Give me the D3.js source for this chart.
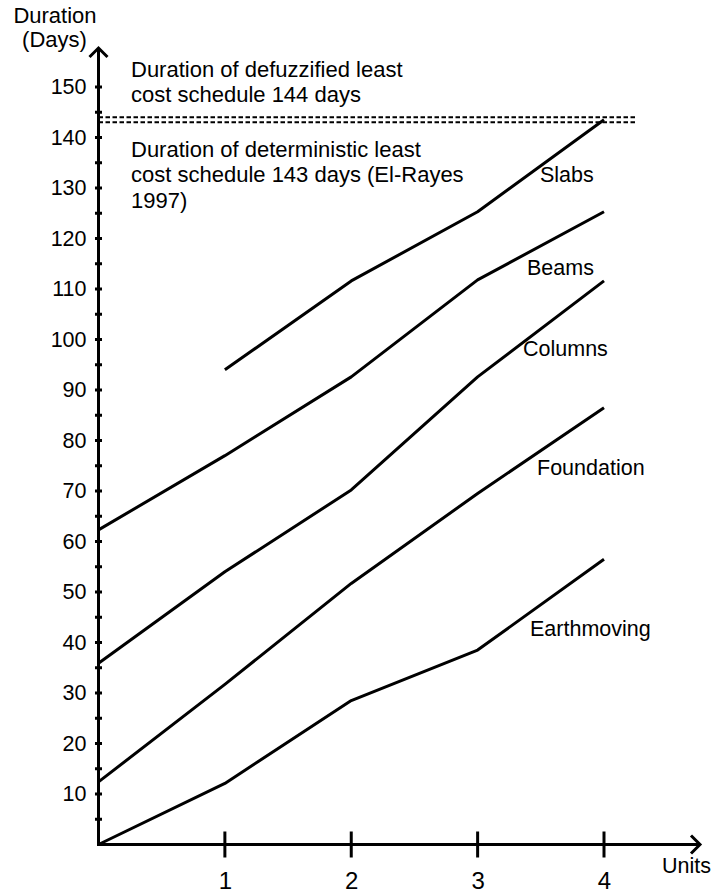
<!DOCTYPE html>
<html>
<head>
<meta charset="utf-8">
<script src="https://cdn.jsdelivr.net/npm/d3@7"></script>
<style>
  html, body { margin: 0; padding: 0; background: #fff; }
  svg { display: block; font-family: "Liberation Sans", Arial, sans-serif; }
</style>
</head>
<body>
<svg id="chart" width="717" height="896"></svg>
<script>
// Units on the horizontal axis
const units = [0, 1, 2, 3, 4];

// Duration (days) of each activity per unit
const earthmoving = [0, 12.1, 28.5, 38.5, 56.5];
const foundation  = [12.4, 31.7, 51.7, 69.5, 86.5];
const columns     = [35.9, 54, 70.2, 92.6, 111.6];
const beams       = [62.3, 77, 92.6, 111.8, 125.3];
const slabs       = [null, 94, 111.6, 125.3, 143.5];

const seriesNames = ["Earthmoving", "Foundation", "Columns", "Beams", "Slabs"];

// Reference schedule durations
const refDurations = [144, 143];

const yTickLabels = [10, 20, 30, 40, 50, 60, 70, 80, 90, 100, 110, 120, 130, 140, 150];
const yMinorTicks = d3.range(5, 151, 5);
const xTickLabels = [1, 2, 3, 4];

const svg = d3.select("#chart");

const x = d3.scaleLinear().domain([0, 4]).range([98.5, 604]);
const y = d3.scaleLinear().domain([0, 150]).range([844.5, 87]);

const ink = "#000";
const font = "Liberation Sans, Arial, sans-serif";

// ---- axes ----
const yTop = 48, xRight = 700;
svg.append("line")
  .attr("x1", x(0)).attr("x2", x(0))
  .attr("y1", y(0) + 1.5).attr("y2", yTop)
  .attr("stroke", ink).attr("stroke-width", 3);
svg.append("polyline")
  .attr("points", `${x(0) - 9},${yTop + 9} ${x(0)},${yTop} ${x(0) + 9},${yTop + 9}`)
  .attr("fill", "none").attr("stroke", ink).attr("stroke-width", 3);

svg.append("line")
  .attr("x1", x(0) - 1.5).attr("x2", xRight)
  .attr("y1", y(0)).attr("y2", y(0))
  .attr("stroke", ink).attr("stroke-width", 3);
svg.append("polyline")
  .attr("points", `${xRight - 9},${y(0) - 9} ${xRight},${y(0)} ${xRight - 9},${y(0) + 9}`)
  .attr("fill", "none").attr("stroke", ink).attr("stroke-width", 3);

// y axis: small crossing ticks every 5 days, labels every 10
svg.append("g").selectAll("line")
  .data(yMinorTicks)
  .join("line")
  .attr("x1", x(0) - 3.5).attr("x2", x(0) + 3.5)
  .attr("y1", d => y(d)).attr("y2", d => y(d))
  .attr("stroke", ink).attr("stroke-width", 3);

const yAxis = d3.axisLeft(y)
  .tickValues(yTickLabels)
  .tickFormat(d3.format("d"))
  .tickSize(0)
  .tickPadding(12);
svg.append("g")
  .attr("transform", `translate(${x(0)},0)`)
  .call(yAxis)
  .call(g => g.select(".domain").remove())
  .call(g => g.selectAll("text")
    .attr("font-size", 21.5)
    .attr("font-family", font)
    .attr("fill", ink));

// x axis: crossing ticks with labels below
svg.append("g").selectAll("line")
  .data(xTickLabels)
  .join("line")
  .attr("x1", d => x(d)).attr("x2", d => x(d))
  .attr("y1", y(0) - 13).attr("y2", y(0) + 13)
  .attr("stroke", ink).attr("stroke-width", 3);

const xAxis = d3.axisBottom(x)
  .tickValues(xTickLabels)
  .tickFormat(d3.format("d"))
  .tickSize(0)
  .tickPadding(27);
svg.append("g")
  .attr("transform", `translate(0,${y(0)})`)
  .call(xAxis)
  .call(g => g.select(".domain").remove())
  .call(g => g.selectAll("text")
    .attr("font-size", 24)
    .attr("font-family", font)
    .attr("fill", ink));

// axis titles
svg.append("text").attr("x", 55).attr("y", 23)
  .attr("text-anchor", "middle").attr("font-size", 22).text("Duration");
svg.append("text").attr("x", 54.5).attr("y", 47)
  .attr("text-anchor", "middle").attr("font-size", 22).text("(Days)");
svg.append("text").attr("x", 662).attr("y", 873)
  .attr("font-size", 21.5).text("Units");

// ---- reference duration lines ----
svg.append("g").selectAll("line")
  .data(refDurations)
  .join("line")
  .attr("x1", x(0)).attr("x2", 637)
  .attr("y1", d => y(d)).attr("y2", d => y(d))
  .attr("stroke", ink).attr("stroke-width", 2)
  .attr("stroke-dasharray", "4.5,2.5");

const noteLines = [
  { text: "Duration of defuzzified least", yy: 77 },
  { text: "cost schedule 144 days", yy: 102 },
  { text: "Duration of deterministic least", yy: 157 },
  { text: "cost schedule 143 days (El-Rayes", yy: 182 },
  { text: "1997)", yy: 208 }
];
svg.append("g").selectAll("text")
  .data(noteLines)
  .join("text")
  .attr("x", 131).attr("y", d => d.yy)
  .attr("font-size", 22)
  .text(d => d.text);

// ---- activity lines ----
const allSeries = [earthmoving, foundation, columns, beams, slabs];
const line = d3.line()
  .defined(d => d[1] !== null)
  .x(d => x(d[0]))
  .y(d => y(d[1]));

svg.append("g").selectAll("path")
  .data(allSeries)
  .join("path")
  .attr("d", s => line(units.map((u, i) => [u, s[i]])))
  .attr("fill", "none")
  .attr("stroke", ink)
  .attr("stroke-width", 3)
  .attr("stroke-linejoin", "round");

// activity names
const labelPos = [
  { x: 530, y: 636 },
  { x: 537, y: 475 },
  { x: 523, y: 356 },
  { x: 527, y: 275 },
  { x: 540, y: 182 }
];
svg.append("g").selectAll("text")
  .data(seriesNames)
  .join("text")
  .attr("x", (d, i) => labelPos[i].x)
  .attr("y", (d, i) => labelPos[i].y)
  .attr("font-size", 21.5)
  .text(d => d);
</script>
</body>
</html>
